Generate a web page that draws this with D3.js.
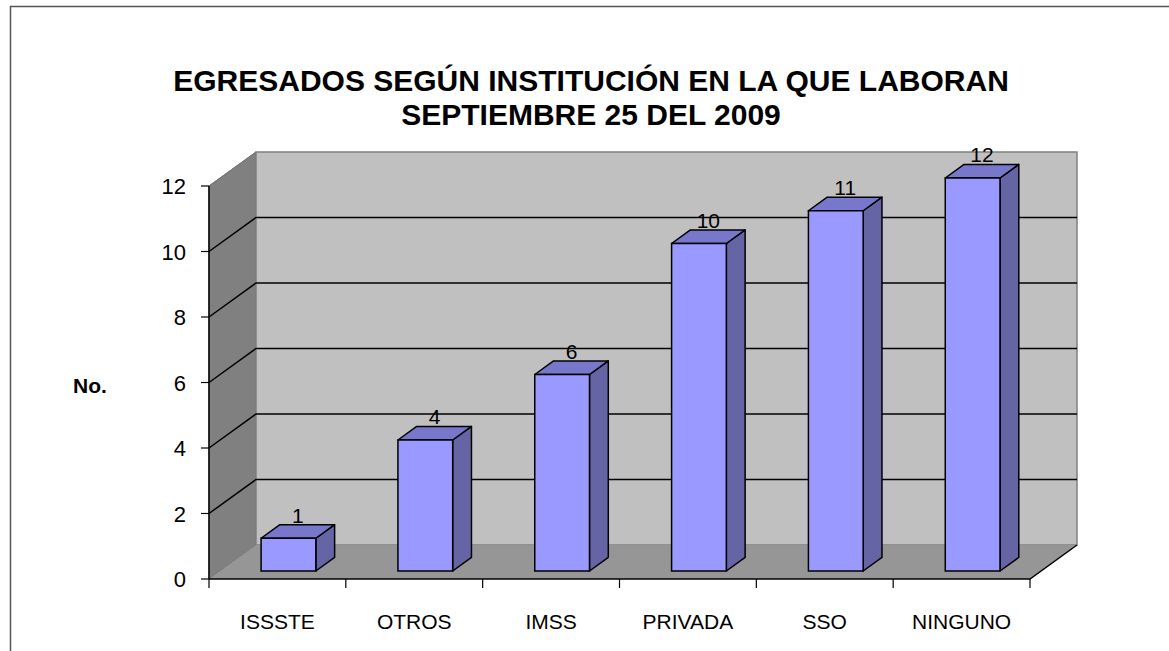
<!DOCTYPE html>
<html>
<head>
  <meta charset="utf-8">
  <script src="https://d3js.org/d3.v7.min.js"></script>
  <style>
    body { margin: 0; background: #fff; }
    text { font-family: Arial, "Liberation Sans", sans-serif; }
  </style>
</head>
<body>
<script>
  // data
  var categories = ["ISSSTE", "OTROS", "IMSS", "PRIVADA", "SSO", "NINGUNO"];
  var values = [1, 4, 6, 10, 11, 12];
  var yTicks = [0, 2, 4, 6, 8, 10, 12];
  var titleLines = ["EGRESADOS SEGÚN INSTITUCIÓN EN LA QUE LABORAN", "SEPTIEMBRE 25 DEL 2009"];

  var width = 1169, height = 651;

  // front plane of the plot and the 3d depth offset
  var x0 = 209, x1 = 1030, yBase = 579, yTop = 186;
  var depthX = 47, depthY = -34;
  var barFront = 0.235, barBack = 0.635;

  var svg = d3.select("body").append("svg")
      .attr("width", width)
      .attr("height", height);

  // chart border (only left and top show)
  svg.append("path")
      .attr("d", "M10.5,651 V6.5 H1169")
      .style("fill", "none")
      .style("stroke", "#555")
      .style("stroke-width", 1.5);

  var x = d3.scaleBand().domain(categories).range([x0, x1]);
  var y = d3.scaleLinear().domain([0, 12]).range([yBase, yTop]);

  function pt(px, py, f) { return [px + depthX * f, py + depthY * f]; }
  function poly(pts) { return "M" + pts.map(function(p){ return p.join(","); }).join("L") + "Z"; }

  // left wall
  svg.append("path")
      .attr("d", poly([[x0, yTop], pt(x0, yTop, 1), pt(x0, yBase, 1), [x0, yBase]]))
      .style("fill", "#808080")
      .style("stroke", "#666")
      .style("stroke-width", 1);

  // back wall
  svg.append("path")
      .attr("d", poly([pt(x0, yTop, 1), pt(x1, yTop, 1), pt(x1, yBase, 1), pt(x0, yBase, 1)]))
      .style("fill", "#c0c0c0")
      .style("stroke", "#808080")
      .style("stroke-width", 1.5);

  // floor
  svg.append("path")
      .attr("d", poly([[x0, yBase], [x1, yBase], pt(x1, yBase, 1), pt(x0, yBase, 1)]))
      .style("fill", "#969696")
      .style("stroke", "none");
  svg.append("path")
      .attr("d", "M" + x0 + "," + yBase + "H" + x1 + "L" + pt(x1, yBase, 1).join(","))
      .style("fill", "none")
      .style("stroke", "#000")
      .style("stroke-width", 1.5);

  // gridlines on left wall and back wall
  svg.selectAll(".grid")
      .data(yTicks.filter(function(d){ return d > 0 && d < 12; }))
      .enter().append("path")
      .attr("class", "grid")
      .attr("d", function(d){
        var b = pt(x0, y(d), 1), e = pt(x1, y(d), 1);
        return "M" + x0 + "," + y(d) + "L" + b.join(",") + "H" + e[0];
      })
      .style("fill", "none")
      .style("stroke", "#000")
      .style("stroke-width", 1.5);

  // y axis line, ticks and labels
  svg.append("line")
      .attr("x1", x0).attr("x2", x0)
      .attr("y1", y(12)).attr("y2", yBase)
      .style("stroke", "#000").style("stroke-width", 1.5);
  svg.append("path")
      .attr("d", "M" + x0 + "," + y(12) + "L" + pt(x0, y(12), 1).join(","))
      .style("stroke", "#777").style("stroke-width", 1);

  svg.selectAll(".ytick")
      .data(yTicks).enter().append("line")
      .attr("x1", x0 - 8).attr("x2", x0)
      .attr("y1", function(d){ return y(d); })
      .attr("y2", function(d){ return y(d); })
      .style("stroke", "#000").style("stroke-width", 1.2);

  svg.selectAll(".ylab")
      .data(yTicks).enter().append("text")
      .attr("x", 186)
      .attr("y", function(d){ return y(d) + 8; })
      .attr("text-anchor", "end")
      .style("font-size", "22px")
      .text(function(d){ return d; });

  // x ticks and labels
  svg.selectAll(".xtick")
      .data(d3.range(categories.length + 1)).enter().append("line")
      .attr("x1", function(i){ return x0 + i * x.bandwidth(); })
      .attr("x2", function(i){ return x0 + i * x.bandwidth(); })
      .attr("y1", yBase).attr("y2", yBase + 9)
      .style("stroke", "#000").style("stroke-width", 1.2);

  svg.selectAll(".xlab")
      .data(categories).enter().append("text")
      .attr("x", function(d){ return x(d) + x.bandwidth() / 2; })
      .attr("y", 629)
      .attr("text-anchor", "middle")
      .style("font-size", "21px")
      .text(function(d){ return d; });

  // bars
  var bw = x.bandwidth() * 0.4;
  var bars = svg.selectAll(".bar")
      .data(values.map(function(v, i){ return {cat: categories[i], v: v}; }))
      .enter().append("g");

  function corners(d) {
    var cx = x(d.cat) + x.bandwidth() / 2;
    var l = cx - bw / 2, r = cx + bw / 2;
    return {
      fbl: pt(l, yBase, barFront), fbr: pt(r, yBase, barFront),
      ftl: pt(l, y(d.v), barFront), ftr: pt(r, y(d.v), barFront),
      btl: pt(l, y(d.v), barBack), btr: pt(r, y(d.v), barBack),
      bbr: pt(r, yBase, barBack)
    };
  }

  bars.append("path")
      .attr("d", function(d){ var c = corners(d); return poly([c.fbr, c.ftr, c.btr, c.bbr]); })
      .style("fill", "#6565a6").style("stroke", "#000").style("stroke-width", 1.5)
      .style("stroke-linejoin", "round");
  bars.append("path")
      .attr("d", function(d){ var c = corners(d); return poly([c.ftl, c.btl, c.btr, c.ftr]); })
      .style("fill", "#7777cc").style("stroke", "#000").style("stroke-width", 1.5)
      .style("stroke-linejoin", "round");
  bars.append("path")
      .attr("d", function(d){ var c = corners(d); return poly([c.fbl, c.ftl, c.ftr, c.fbr]); })
      .style("fill", "#9999ff").style("stroke", "#000").style("stroke-width", 1.5);

  bars.append("text")
      .attr("x", function(d){ var c = corners(d); return (c.ftl[0] + c.btr[0]) / 2; })
      .attr("y", function(d){ return corners(d).btl[1] - 2; })
      .attr("text-anchor", "middle")
      .style("font-size", "21px")
      .text(function(d){ return d.v; });

  // axis title
  svg.append("text")
      .attr("x", 90).attr("y", 393)
      .attr("text-anchor", "middle")
      .style("font-size", "21px").style("font-weight", "bold")
      .text("No.");

  // chart title
  svg.selectAll(".title")
      .data(titleLines).enter().append("text")
      .attr("x", 591)
      .attr("y", function(d, i){ return 91 + i * 34; })
      .attr("text-anchor", "middle")
      .style("font-size", "30px").style("font-weight", "bold")
      .text(function(d){ return d; });
</script>
</body>
</html>
